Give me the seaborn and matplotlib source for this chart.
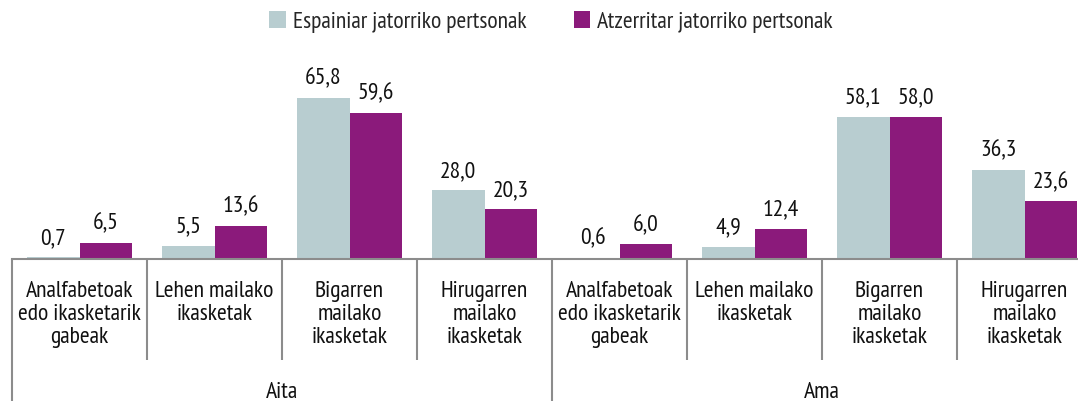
import numpy as np
import pandas as pd
import matplotlib
matplotlib.use("Agg")
import matplotlib.pyplot as plt
import seaborn as sns

# data
groups = ["Aita", "Ama"]
levels = ["Analfabetoak\nedo ikasketarik\ngabeak", "Lehen mailako\nikasketak",
          "Bigarren\nmailako\nikasketak", "Hirugarren\nmailako\nikasketak"]
series = ["Espainiar jatorriko pertsonak", "Atzerritar jatorriko pertsonak"]
spanish = [0.7, 5.5, 65.8, 28.0, 0.6, 4.9, 58.1, 36.3]
foreign = [6.5, 13.6, 59.6, 20.3, 6.0, 12.4, 58.0, 23.6]

colors = ["#b8cdd0", "#8b1a7b"]

sns.set_theme(style="white")
plt.rcParams["font.family"] = ["PT Sans Narrow", "DejaVu Sans"]

cats = [f"{g}|{l}" for g in groups for l in levels]
df = pd.DataFrame({
    "cat": cats * 2,
    "value": spanish + foreign,
    "serie": [series[0]] * len(cats) + [series[1]] * len(cats),
})

fig = plt.figure(figsize=(10.78, 4.01), dpi=100)
ax = fig.add_axes([12 / 1078, 1 - 259 / 401, 1 - 12 / 1078, 196 / 401])

sns.barplot(data=df, x="cat", y="value", hue="serie", order=cats,
            hue_order=series, palette=colors, width=0.785, saturation=1,
            ax=ax, legend=True, linewidth=0)

ax.set_ylim(0, 80)
ax.set_xlim(-0.5, 7.5 - 14 / 135)
for s in ["top", "right", "left"]:
    ax.spines[s].set_visible(False)
ax.spines["bottom"].set_color("#8c8c8c")
ax.spines["bottom"].set_linewidth(1.5)
ax.set_yticks([])
ax.set_xlabel("")
ax.set_ylabel("")

fs = 17
ax.set_xticks(range(len(cats)))
ax.set_xticklabels(levels * 2, fontsize=fs, linespacing=1.12, color="#111111")
ax.tick_params(axis="x", length=0, pad=16)

for cont in ax.containers:
    ax.bar_label(cont, labels=[f"{v:.1f}".replace(".", ",") for v in cont.datavalues],
                 padding=6, fontsize=fs, color="#111111")

# separators between categories and groups
trans = ax.get_xaxis_transform()
short = [b - 0.5 for b in range(1, 8) if b != 4]
ax.vlines(short, -0.515, 0, transform=trans, colors="#8c8c8c", lw=1.5, clip_on=False)
ax.vlines([-0.5, 3.5], -0.75, 0, transform=trans, colors="#8c8c8c", lw=1.5, clip_on=False)

for i, g in enumerate(groups):
    ax.text(1.5 + 4 * i, -0.68, g, transform=trans, ha="center", va="center",
            fontsize=fs, color="#111111")

handles, labels = ax.get_legend_handles_labels()
ax.get_legend().remove()
fig.legend(handles, labels, loc="center", bbox_to_anchor=(551 / 1078, 1 - 22 / 401),
           ncol=2, frameon=False, fontsize=fs, handlelength=0.7, handleheight=0.7,
           handletextpad=0.3, columnspacing=2.0)

fig.savefig("out.png", dpi=100)
